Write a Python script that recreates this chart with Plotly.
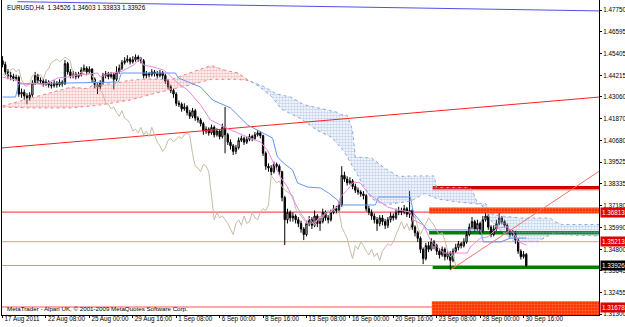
import plotly.graph_objects as go

# ---------------- data ----------------
header_text = "EURUSD,H4  1.34526 1.34603 1.33833 1.33926"
copyright_text = "MetaTrader - Alpari UK, \u00a9 2001-2009 MetaQuotes Software Corp."

date_tick_bars = [0, 16, 32, 48, 64, 80, 96, 112, 128, 144, 160, 176, 192]
date_tick_labels = ["17 Aug 2011", "22 Aug 08:00", "25 Aug 00:00", "29 Aug 16:00",
                    "1 Sep 08:00", "6 Sep 00:00", "8 Sep 16:00", "13 Sep 08:00",
                    "16 Sep 00:00", "20 Sep 16:00", "23 Sep 08:00", "28 Sep 00:00",
                    "30 Sep 16:00"]

price_ticks = [1.47750, 1.46595, 1.45405, 1.44215, 1.43060, 1.41870, 1.40680,
               1.39525, 1.38335, 1.37180, 1.35990, 1.34800, 1.33645, 1.32455, 1.31300]

first_open = 1.4500
closes = [
    1.4480, 1.4440, 1.4420, 1.4415, 1.4405, 1.4410, 1.4320, 1.4330, 1.4310, 1.4300,
    1.4315, 1.4380, 1.4420, 1.4395, 1.4390, 1.4375, 1.4385, 1.4370, 1.4365, 1.4380,
    1.4370, 1.4385, 1.4375, 1.4485, 1.4440, 1.4420, 1.4430, 1.4415, 1.4425, 1.4450,
    1.4460, 1.4440, 1.4455, 1.4400, 1.4370, 1.4360, 1.4380, 1.4420, 1.4430, 1.4415,
    1.4425, 1.4400, 1.4440, 1.4460, 1.4490, 1.4500, 1.4510, 1.4495, 1.4505, 1.4520,
    1.4510, 1.4500, 1.4420, 1.4430, 1.4425, 1.4440, 1.4430, 1.4420, 1.4435, 1.4420,
    1.4390, 1.4360, 1.4340, 1.4320, 1.4270, 1.4265, 1.4240, 1.4250, 1.4220, 1.4200,
    1.4230, 1.4190, 1.4180, 1.4160, 1.4120, 1.4130, 1.4110, 1.4140, 1.4100, 1.4120,
    1.4090, 1.4140, 1.4100, 1.4060, 1.4040, 1.4010, 1.4030, 1.4070, 1.4080, 1.4060,
    1.4075, 1.4090, 1.4080, 1.4100, 1.4110, 1.4095, 1.4000, 1.3930, 1.3920, 1.3900,
    1.3940, 1.3930, 1.3900, 1.3760, 1.3640, 1.3680, 1.3650, 1.3660, 1.3640, 1.3620,
    1.3590, 1.3560, 1.3620, 1.3640, 1.3610, 1.3660, 1.3620, 1.3630, 1.3680, 1.3650,
    1.3640, 1.3680, 1.3700, 1.3690, 1.3720, 1.3880, 1.3860, 1.3840, 1.3850, 1.3820,
    1.3800, 1.3790, 1.3780, 1.3770, 1.3700, 1.3680, 1.3660, 1.3640, 1.3620, 1.3650,
    1.3630, 1.3610, 1.3640, 1.3660, 1.3650, 1.3680, 1.3690, 1.3680, 1.3700, 1.3670,
    1.3690, 1.3600, 1.3570, 1.3540, 1.3480, 1.3430, 1.3500, 1.3480, 1.3520, 1.3500,
    1.3470, 1.3450, 1.3480, 1.3440, 1.3460, 1.3420, 1.3470, 1.3490, 1.3510, 1.3500,
    1.3520, 1.3560, 1.3600, 1.3630, 1.3590, 1.3620, 1.3580, 1.3640, 1.3660, 1.3600,
    1.3560, 1.3590, 1.3620, 1.3650, 1.3630, 1.3610, 1.3580, 1.3560, 1.3570, 1.3530,
    1.3470, 1.3440, 1.34526, 1.33926]
highs = [
    1.4525, 1.4495, 1.4455, 1.4440, 1.4430, 1.4425, 1.4420, 1.4350, 1.4345, 1.4325,
    1.4330, 1.4395, 1.4440, 1.4430, 1.4410, 1.4405, 1.4400, 1.4395, 1.4385, 1.4395,
    1.4390, 1.4400, 1.4395, 1.4505, 1.4495, 1.4455, 1.4445, 1.4440, 1.4440, 1.4465,
    1.4480, 1.4470, 1.4470, 1.4460, 1.4410, 1.4385, 1.4395, 1.4435, 1.4445, 1.4440,
    1.4440, 1.4435, 1.4470, 1.4480, 1.4505, 1.4520, 1.4530, 1.4520, 1.4525, 1.4535,
    1.4530, 1.4520, 1.4510, 1.4445, 1.4440, 1.4455, 1.4450, 1.4445, 1.4450, 1.4445,
    1.4430, 1.4400, 1.4370, 1.4350, 1.4330, 1.4285, 1.4275, 1.4270, 1.4260, 1.4235,
    1.4245, 1.4240, 1.4200, 1.4190, 1.4170, 1.4145, 1.4140, 1.4155, 1.4150, 1.4135,
    1.4130, 1.4160, 1.4250, 1.4110, 1.4075, 1.4050, 1.4045, 1.4085, 1.4095, 1.4090,
    1.4090, 1.4105, 1.4100, 1.4115, 1.4125, 1.4120, 1.4100, 1.4010, 1.3945, 1.3935,
    1.3955, 1.3950, 1.3940, 1.3905, 1.3770, 1.3700, 1.3690, 1.3680, 1.3670, 1.3655,
    1.3635, 1.3600, 1.3635, 1.3660, 1.3655, 1.3690, 1.3670, 1.3650, 1.3700, 1.3690,
    1.3665, 1.3695, 1.3720, 1.3715, 1.3740, 1.3930, 1.3900, 1.3875, 1.3870, 1.3860,
    1.3835, 1.3815, 1.3800, 1.3795, 1.3780, 1.3715, 1.3695, 1.3675, 1.3655, 1.3665,
    1.3665, 1.3645, 1.3655, 1.3680, 1.3675, 1.3700, 1.3710, 1.3705, 1.3720, 1.3710,
    1.3795, 1.3700, 1.3610, 1.3580, 1.3550, 1.3490, 1.3515, 1.3520, 1.3540, 1.3530,
    1.3510, 1.3485, 1.3495, 1.3490, 1.3475, 1.3470, 1.3485, 1.3510, 1.3525, 1.3520,
    1.3540, 1.3580, 1.3620, 1.3655, 1.3640, 1.3640, 1.3630, 1.3660, 1.3700, 1.3670,
    1.3610, 1.3610, 1.3640, 1.3680, 1.3660, 1.3640, 1.3620, 1.3590, 1.3585, 1.3580,
    1.3540, 1.3480, 1.3470, 1.34603]
lows = [
    1.4465, 1.4425, 1.4400, 1.4395, 1.4390, 1.4390, 1.4305, 1.4300, 1.4290, 1.4265,
    1.4285, 1.4305, 1.4370, 1.4380, 1.4375, 1.4360, 1.4365, 1.4355, 1.4350, 1.4355,
    1.4355, 1.4360, 1.4360, 1.4370, 1.4425, 1.4405, 1.4405, 1.4400, 1.4405, 1.4415,
    1.4440, 1.4425, 1.4430, 1.4385, 1.4350, 1.4320, 1.4345, 1.4370, 1.4405, 1.4400,
    1.4405, 1.4345, 1.4390, 1.4430, 1.4450, 1.4480, 1.4490, 1.4480, 1.4485, 1.4495,
    1.4495, 1.4485, 1.4405, 1.4405, 1.4410, 1.4415, 1.4415, 1.4405, 1.4410, 1.4400,
    1.4375, 1.4345, 1.4325, 1.4300, 1.4255, 1.4250, 1.4225, 1.4230, 1.4205, 1.4185,
    1.4190, 1.4175, 1.4165, 1.4145, 1.4100, 1.4105, 1.4095, 1.4100, 1.4085, 1.4090,
    1.4075, 1.4080, 1.4000, 1.4045, 1.4020, 1.3990, 1.3995, 1.4020, 1.4060, 1.4045,
    1.4050, 1.4065, 1.4065, 1.4070, 1.4090, 1.4080, 1.3985, 1.3910, 1.3900, 1.3880,
    1.3890, 1.3910, 1.3880, 1.3740, 1.3503, 1.3620, 1.3630, 1.3630, 1.3620, 1.3600,
    1.3570, 1.3530, 1.3550, 1.3605, 1.3590, 1.3600, 1.3600, 1.3580, 1.3620, 1.3635,
    1.3620, 1.3630, 1.3670, 1.3675, 1.3680, 1.3710, 1.3845, 1.3825, 1.3830, 1.3805,
    1.3785, 1.3775, 1.3765, 1.3750, 1.3685, 1.3665, 1.3640, 1.3620, 1.3580, 1.3605,
    1.3610, 1.3590, 1.3595, 1.3625, 1.3635, 1.3640, 1.3665, 1.3665, 1.3670, 1.3655,
    1.3650, 1.3585, 1.3550, 1.3520, 1.3460, 1.3400, 1.3420, 1.3465, 1.3470, 1.3480,
    1.3450, 1.3430, 1.3440, 1.3420, 1.3425, 1.3368, 1.3410, 1.3460, 1.3475, 1.3485,
    1.3490, 1.3510, 1.3550, 1.3590, 1.3575, 1.3580, 1.3560, 1.3570, 1.3630, 1.3585,
    1.3545, 1.3550, 1.3580, 1.3610, 1.3615, 1.3595, 1.3565, 1.3545, 1.3550, 1.3510,
    1.3455, 1.3425, 1.3430, 1.33833]

# Ichimoku lines (bar position, price)
tenkan_bar = [0, 4.8, 8.5, 11.4, 15.1, 20.3, 23.9, 27.6, 35.0, 36.1, 39.8, 43.5, 48.3, 50.8,
              52.0, 55.6, 59.3, 60.8, 64.5, 68.2, 73.0, 76.6, 80.3, 84.0, 90.3, 95.1, 97.6,
              99.9, 102.4, 105.0, 107.2, 109.8, 112.4, 114.6, 117.2, 119.7, 123.4, 124.5,
              127.1, 129.3, 131.9, 134.5, 138.2, 141.9, 145.5, 150.3, 151.4, 155.1, 157.7,
              162.5, 171.3, 172.4, 176.1, 178.7, 182.4, 186.1, 188.3, 190.2, 193.0]
tenkan_price = [1.4412, 1.4396, 1.4369, 1.4380, 1.4369, 1.4407, 1.4412, 1.4423, 1.4434,
                1.4412, 1.4434, 1.4440, 1.4477, 1.4515, 1.4477, 1.4467, 1.4450, 1.4434,
                1.4380, 1.4342, 1.4261, 1.4180, 1.4153, 1.4126, 1.4088, 1.4061, 1.4017,
                1.3947, 1.3871, 1.3817, 1.3747, 1.3677, 1.3622, 1.3622, 1.3655, 1.3677,
                1.3709, 1.3763, 1.3801, 1.3844, 1.3839, 1.3785, 1.3747, 1.3709, 1.3693,
                1.3682, 1.3639, 1.3612, 1.3530, 1.3460, 1.3460, 1.3493, 1.3541, 1.3547,
                1.3595, 1.3601, 1.3568, 1.3520, 1.3503]
kijun_bar = [0, 4.8, 5.9, 21.4, 42.7, 43.8, 63.7, 64.8, 68.5, 73.0, 77.4, 84.0, 90.3, 95.1,
             99.5, 101.3, 103.5, 106.9, 108.7, 112.4, 117.2, 120.1, 123.4, 124.5, 137.4,
             138.5, 150.3, 151.4, 154.0, 156.6, 176.1, 177.2, 183.5, 187.2, 193.0]
kijun_price = [1.4304, 1.4304, 1.4375, 1.4380, 1.4385, 1.4434, 1.4434, 1.4407, 1.4385,
               1.4358, 1.4288, 1.4245, 1.4153, 1.4115, 1.4082, 1.3980, 1.3947, 1.3909,
               1.3839, 1.3817, 1.3812, 1.3785, 1.3747, 1.3720, 1.3720, 1.3763, 1.3763,
               1.3677, 1.3628, 1.3585, 1.3585, 1.3520, 1.3520, 1.3541, 1.3541]
span_a_bar = [0, 6.6, 15.8, 25.3, 30.8, 34.5, 41.2, 46.3, 53.7, 62.2, 69.5, 76.9, 81.7, 86.9,
              90.5, 94.2, 99.0, 102.7, 110.1, 116.3, 121.1, 125.9, 131.1, 135.9, 140.6, 145.8,
              150.6, 155.4, 160.5, 167.9, 176.4, 181.2, 188.5, 197.4, 202.2, 208.4, 220]
span_a_price = [1.4256, 1.4283, 1.4320, 1.4358, 1.4350, 1.4375, 1.4375, 1.4394, 1.4402,
                1.4399, 1.4437, 1.4475, 1.4450, 1.4434, 1.4396, 1.4364, 1.4310, 1.4239,
                1.4185, 1.4120, 1.4088, 1.4009, 1.3874, 1.3755, 1.3720, 1.3733, 1.3741,
                1.3782, 1.3752, 1.3736, 1.3723, 1.3609, 1.3522, 1.3522, 1.3563, 1.3558,
                1.3552]
span_b_bar = [0, 10, 25, 36, 47, 58, 69, 77, 86, 90, 96, 101, 106, 111, 123, 125, 127, 129,
              130, 136, 141, 146, 151, 159, 160, 171, 172, 173, 175, 178, 181, 191, 202, 203,
              206, 220]
span_b_price = [1.4250, 1.4245, 1.4245, 1.4261, 1.4288, 1.4331, 1.4369, 1.4400, 1.4400,
                1.4395, 1.4363, 1.4320, 1.4305, 1.4263, 1.4223, 1.4208, 1.4205, 1.4125,
                1.3979, 1.3974, 1.3917, 1.3874, 1.3877, 1.3877, 1.3814, 1.3814, 1.3812,
                1.3802, 1.3729, 1.3727, 1.3665, 1.3649, 1.3649, 1.3634, 1.3614, 1.3614]
cloud_cross_bar = 91.5
cloud_cross_price = 1.4388
chikou_shift = 26

# horizontal levels and drawn objects
red_level = 1.36813
pink_level = 1.35213
low_level = 1.31678
bid_level = 1.33926
trend_red_bar, trend_red_price = [-0.74, 220], [1.4028, 1.4304]
trend_blue_bar, trend_blue_price = [5.5, 220], [1.4820, 1.4770]
trend_up_bar, trend_up_price = [165, 220], [1.3368, 1.3904]
solid_zones = [  # (start bar, low, high, colour)
    (158.5, 1.3804, 1.3823, "#D40000"),
    (157.2, 1.3560, 1.3579, "#008000"),
    (158.5, 1.3373, 1.3394, "#008000"),
]
hatched_zones = [
    (157.2, 1.3674, 1.3706),
    (158.2, 1.3100, 1.3199),
]
level_labels = [(1.36813, "1.36813", "#E00000"), (1.35213, "1.35213", "#E00000"),
                (1.33926, "1.33926", "#000000"), (1.31678, "1.31678", "#E00000")]

# ---------------- figure ----------------
X_MIN, X_MAX = -0.2, 219.8
Y_MIN, Y_MAX = 1.31246, 1.48291
FONT = "Liberation Sans"

opens = [first_open] + closes[:-1]
bars = list(range(len(closes)))
hi = [max(h, o, c) for h, o, c in zip(highs, opens, closes)]
lo = [min(l, o, c) for l, o, c in zip(lows, opens, closes)]

fig = go.Figure()


def seg(bx, py, upto):
    if upto:
        xs = [b for b in bx if b <= cloud_cross_bar] + [cloud_cross_bar]
        ys = [p for b, p in zip(bx, py) if b <= cloud_cross_bar] + [cloud_cross_price]
    else:
        xs = [cloud_cross_bar] + [b for b in bx if b >= cloud_cross_bar]
        ys = [cloud_cross_price] + [p for b, p in zip(bx, py) if b >= cloud_cross_bar]
    return xs, ys


for upto, col in [(True, "#EA8585"), (False, "#8FAADB")]:
    bx, by = seg(span_b_bar, span_b_price, upto)
    ax_, ay = seg(span_a_bar, span_a_price, upto)
    fig.add_trace(go.Scatter(x=bx, y=by, mode="lines",
                             line=dict(color=col, width=1, dash="dot")))
    fig.add_trace(go.Scatter(x=ax_, y=ay, mode="lines", fill="tonexty",
                             fillcolor="rgba(0,0,0,0)",
                             fillpattern=dict(shape=".", fgcolor=col,
                                              bgcolor="rgba(0,0,0,0)",
                                              size=3, solidity=0.6),
                             line=dict(color=col, width=1, dash="dot")))

# hatched zones
for start, low, high in hatched_zones:
    fig.add_trace(go.Scatter(x=[start, X_MAX + 1, X_MAX + 1, start, start],
                             y=[low, low, high, high, low], mode="lines",
                             fill="toself", fillcolor="#FF3300",
                             fillpattern=dict(shape=".", fgcolor="#FF9A70",
                                              bgcolor="#FF3300", size=3, solidity=0.4),
                             line=dict(width=0, color="#FF3300")))

shapes = []
for start, low, high, col in solid_zones:
    shapes.append(dict(type="rect", xref="x", yref="y", x0=start, x1=X_MAX + 1,
                       y0=low, y1=high, fillcolor=col, line=dict(width=0), layer="below"))
shapes.append(dict(type="line", xref="x", yref="y", x0=158.5, x1=X_MAX + 1,
                   y0=1.3801, y1=1.3801, line=dict(color="#FF9A9A", width=1)))
for lvl, col, w, x1 in [(red_level, "#F03030", 1, X_MAX + 1),
                        (pink_level, "#FF8C8C", 1, X_MAX + 1),
                        (low_level, "#FFA8A8", 2, 158.2),
                        (bid_level, "#A8A890", 1, X_MAX + 1)]:
    shapes.append(dict(type="line", xref="x", yref="y", x0=X_MIN - 1, x1=x1,
                       y0=lvl, y1=lvl, line=dict(color=col, width=w), layer="below"))

# trend lines
fig.add_trace(go.Scatter(x=trend_red_bar, y=trend_red_price, mode="lines",
                         line=dict(color="#FF2020", width=1)))
fig.add_trace(go.Scatter(x=trend_blue_bar, y=trend_blue_price, mode="lines",
                         line=dict(color="#5050E6", width=1)))
fig.add_trace(go.Scatter(x=trend_up_bar, y=trend_up_price, mode="lines",
                         line=dict(color="#FF6A6A", width=1)))

# chikou, kijun, tenkan
fig.add_trace(go.Scatter(x=bars[:len(closes) - chikou_shift], y=closes[chikou_shift:],
                         mode="lines", line=dict(color="#C9BBA6", width=1)))
fig.add_trace(go.Scatter(x=kijun_bar, y=kijun_price, mode="lines",
                         line=dict(color="#6495ED", width=1)))
fig.add_trace(go.Scatter(x=tenkan_bar, y=tenkan_price, mode="lines",
                         line=dict(color="#EE88DD", width=1)))

fig.add_trace(go.Candlestick(
    x=bars, open=opens, high=hi, low=lo, close=closes, whiskerwidth=0,
    increasing=dict(line=dict(color="#000000", width=1), fillcolor="#FFFFFF"),
    decreasing=dict(line=dict(color="#000000", width=1), fillcolor="#000000")))

annotations = [
    dict(text=header_text, xref="paper", yref="paper", x=0.005, y=1 - 7 / 315,
         xanchor="left", yanchor="middle", showarrow=False,
         font=dict(family=FONT, size=6.4, color="#000000")),
    dict(text=copyright_text, xref="paper", yref="paper", x=0.005, y=1 - 308.5 / 315,
         xanchor="left", yanchor="middle", showarrow=False,
         font=dict(family=FONT, size=6.2, color="#000000")),
]
for price, txt, col in level_labels:
    annotations.append(dict(text=txt, xref="paper", yref="y", x=1, y=price,
                            xanchor="left", yanchor="middle", xshift=1, showarrow=False,
                            bgcolor=col, borderpad=1,
                            font=dict(family=FONT, size=6.3, color="#FFFFFF")))

fig.update_layout(
    width=625, height=327,
    margin=dict(l=2, r=26, t=0, b=12),
    paper_bgcolor="#FFFFFF", plot_bgcolor="#FFFFFF",
    showlegend=False, hovermode=False,
    shapes=shapes, annotations=annotations,
    xaxis=dict(range=[X_MIN, X_MAX], showgrid=False, zeroline=False,
               showline=True, linecolor="#000000", linewidth=1,
               tickmode="array", tickvals=date_tick_bars, ticktext=date_tick_labels,
               ticks="outside", ticklen=2, tickcolor="#000000", tickangle=0,
               ticklabelposition="outside right", ticklabelstandoff=-3, ticklabelshift=1,
               tickfont=dict(family=FONT, size=6.3, color="#000000"),
               rangeslider=dict(visible=False), automargin=False, fixedrange=True),
    yaxis=dict(range=[Y_MIN, Y_MAX], side="right", showgrid=False, zeroline=False,
               showline=True, mirror=True, linecolor="#000000", linewidth=1,
               tickmode="array", tickvals=price_ticks,
               ticktext=["%.5f" % v for v in price_ticks],
               ticks="outside", ticklen=2, tickcolor="#000000",
               tickfont=dict(family=FONT, size=6.3, color="#000000"),
               automargin=False, fixedrange=True),
)

fig.write_html("out.html")
